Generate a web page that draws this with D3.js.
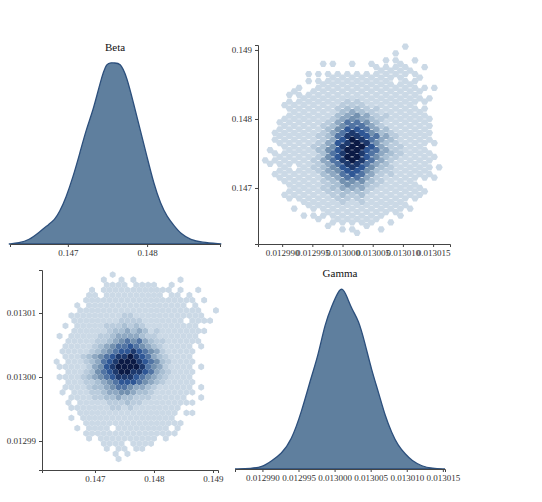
<!DOCTYPE html>
<html><head><meta charset="utf-8">
<script src="https://cdn.jsdelivr.net/npm/d3@7"></script>
<style>body{margin:0;background:#fff}</style>
</head><body><svg id="c" width="542" height="502"></svg>
<script>
// density curves (relative height)
var betaX = [0.146255,0.146383,0.146511,0.146638,0.146766,0.146830,0.146894,0.146979,0.147064,0.147149,0.147234,0.147319,0.147404,0.147489,0.147574,0.147660,0.147745,0.147830,0.147915,0.148,0.148085,0.148170,0.148255,0.148340,0.148426,0.148553,0.148681,0.148936];
var betaY = [0,3,12,35,60,72,95,140,200,270,345,400,480,548,540,545,500,420,340,260,180,120,80,55,30,12,5,0];
var gammaX = [0.0129862,0.0129885,0.0129899,0.0129913,0.0129926,0.0129940,0.0129954,0.0129968,0.0129977,0.0129987,0.0129996,0.0130005,0.0130011,0.0130017,0.0130024,0.0130033,0.0130042,0.0130051,0.0130061,0.0130070,0.0130079,0.0130088,0.0130098,0.0130107,0.0130121,0.0130135,0.0130153];
var gammaY = [0,2,5,25,45,85,170,280,340,440,490,535,547,520,480,450,380,300,230,160,110,70,45,25,8,2,0];
// hexbin counts (level 1..9), rows = gamma from high to low, cols = beta from low to high
var hexBeta0 = 0.1462, hexBetaStep = 0.0001;
var hexGamma0 = 0.013016, hexGammaStep = 0.0000008;
var hexRows = [
"...........1.................",
".........1..1.1.......1......",
"..........1111.1111..1.......",
".......1.111111111111.1..1...",
".......11.1111111111.11.1....",
"......1111111111111111111.1..",
".....1.11111111111111111.1...",
".....111111111111111111111..1",
"....11111111122111111111111..",
"....1111111122221111111.1111.",
"...1.111112223232111111111...",
"....11111123343431211111111..",
"..1.1111122344443221111111...",
"...11111223456564322111111...",
"...1111123456676543211111.1..",
"..11111234567787654211111....",
"...1112345678898764321111....",
".1.1112346789998765321111....",
"..11111245789999865421111.1..",
"...1112356789988764321111....",
"..11112345678887654321111....",
"...1112234567776543211111....",
"...1111233456654432111111.1..",
"..1.111223445543321111111....",
"....11112233433222111111..1..",
"...1.11111222322111111111....",
"....1111111221211111111......",
".....11111111111111111.11....",
"....1.1111111111111111.......",
"......11111111111111111......",
".....1.1111.111111111.1......",
"......1111111111111111.......",
".......1.1111111111.1........",
".........1111.1111...........",
"..........1.11.11............",
"...........1.1...............",
"............1................"];
var betaTicks = [0.147,0.148,0.149];
var gammaTicks = [0.01299,0.012995,0.013,0.013005,0.01301,0.013015];

var FONT = '"Liberation Serif","DejaVu Serif",serif';
var svg = d3.select("#c");
var col = d3.scaleLinear().domain([1,3,5,7,9]).range(["#cbd9e6","#a9bfd3","#7391b0","#2f5795","#0b1a45"]);
var cells = [];
hexRows.forEach(function(s,r){
  for(var c=0;c<s.length;c++){ if(s[c]!=".") cells.push({b:hexBeta0+(c+(r%2?0.5:0))*hexBetaStep, g:hexGamma0-r*hexGammaStep, v:+s[c]}); }
});
function hexPath(rad, flat){
  var p=[];for(var i=0;i<6;i++){var a=Math.PI/3*i+(flat?0:Math.PI/6);p.push([rad*Math.cos(a),rad*Math.sin(a)]);}
  return "M"+p.join("L")+"Z";
}
function axis(g,a){ g.call(a); g.attr("font-family",null); g.selectAll("path,line").attr("stroke","#444");
  g.selectAll("text").attr("fill","#333").style("font-size","9px").style("font-family",FONT); }
function density(xs,ys,x0,x1,y1,titleTxt,ticks,fmt){
  var x=d3.scaleLinear().domain(x0).range(x1), y=d3.scaleLinear().domain([0,548]).range(y1);
  var pts=xs.map(function(d,i){return [d,ys[i]];});
  svg.append("path").attr("d",d3.area().x(function(d){return x(d[0]);}).y0(y(0)).y1(function(d){return y(d[1]);}).curve(d3.curveBasis)(pts))
    .attr("fill","#5f7f9e").attr("stroke","#2c4f7c").attr("stroke-width",1.3);
  axis(svg.append("g").attr("transform","translate(0,"+y(0)+")"),d3.axisBottom(x).tickValues(ticks).tickFormat(d3.format(fmt)).tickSizeOuter(0).tickSize(3));
  svg.append("text").attr("x",(x1[0]+x1[1])/2).attr("y",y1[1]-10).attr("text-anchor","middle")
    .style("font-size","11px").style("font-family",FONT).attr("fill","#111").text(titleTxt);
}
density(betaX,betaY,[0.14627,0.14892],[10,220],[244,61],"Beta",[0.147,0.148],".3f");
density(gammaX,gammaY,[0.0129862,0.0130153],[235,445],[469,287],"Gamma",gammaTicks,".6f");

// top-right: x gamma, y beta
var xg=d3.scaleLinear().domain([0.012986,0.0130178]).range([258,450]);
var yb=d3.scaleLinear().domain([0.146188,0.149072]).range([244,45]);
svg.append("g").selectAll("path").data(cells).join("path").attr("d",hexPath(3.6,true))
  .attr("transform",function(d){return "translate("+xg(d.g)+","+yb(d.b)+")";}).attr("fill",function(d){return col(d.v);});
axis(svg.append("g").attr("transform","translate(0,244)"),d3.axisBottom(xg).tickValues(gammaTicks).tickFormat(d3.format(".6f")).tickSizeOuter(0).tickSize(3));
axis(svg.append("g").attr("transform","translate(258,0)"),d3.axisLeft(yb).tickValues(betaTicks).tickFormat(d3.format(".3f")).tickSizeOuter(0).tickSize(3));

// bottom-left: x beta, y gamma
var xb=d3.scaleLinear().domain([0.146102,0.149085]).range([42,218]);
var yg=d3.scaleLinear().domain([0.01298547,0.01301672]).range([470,270]);
svg.append("g").selectAll("path").data(cells).join("path").attr("d",hexPath(3.4,false))
  .attr("transform",function(d){return "translate("+xb(d.b)+","+yg(d.g)+")";}).attr("fill",function(d){return col(d.v);});
axis(svg.append("g").attr("transform","translate(0,470)"),d3.axisBottom(xb).tickValues(betaTicks).tickFormat(d3.format(".3f")).tickSizeOuter(0).tickSize(3));
axis(svg.append("g").attr("transform","translate(42,0)"),d3.axisLeft(yg).tickValues([0.01299,0.013,0.01301]).tickFormat(d3.format(".5f")).tickSizeOuter(0).tickSize(3));
</script></body></html>
